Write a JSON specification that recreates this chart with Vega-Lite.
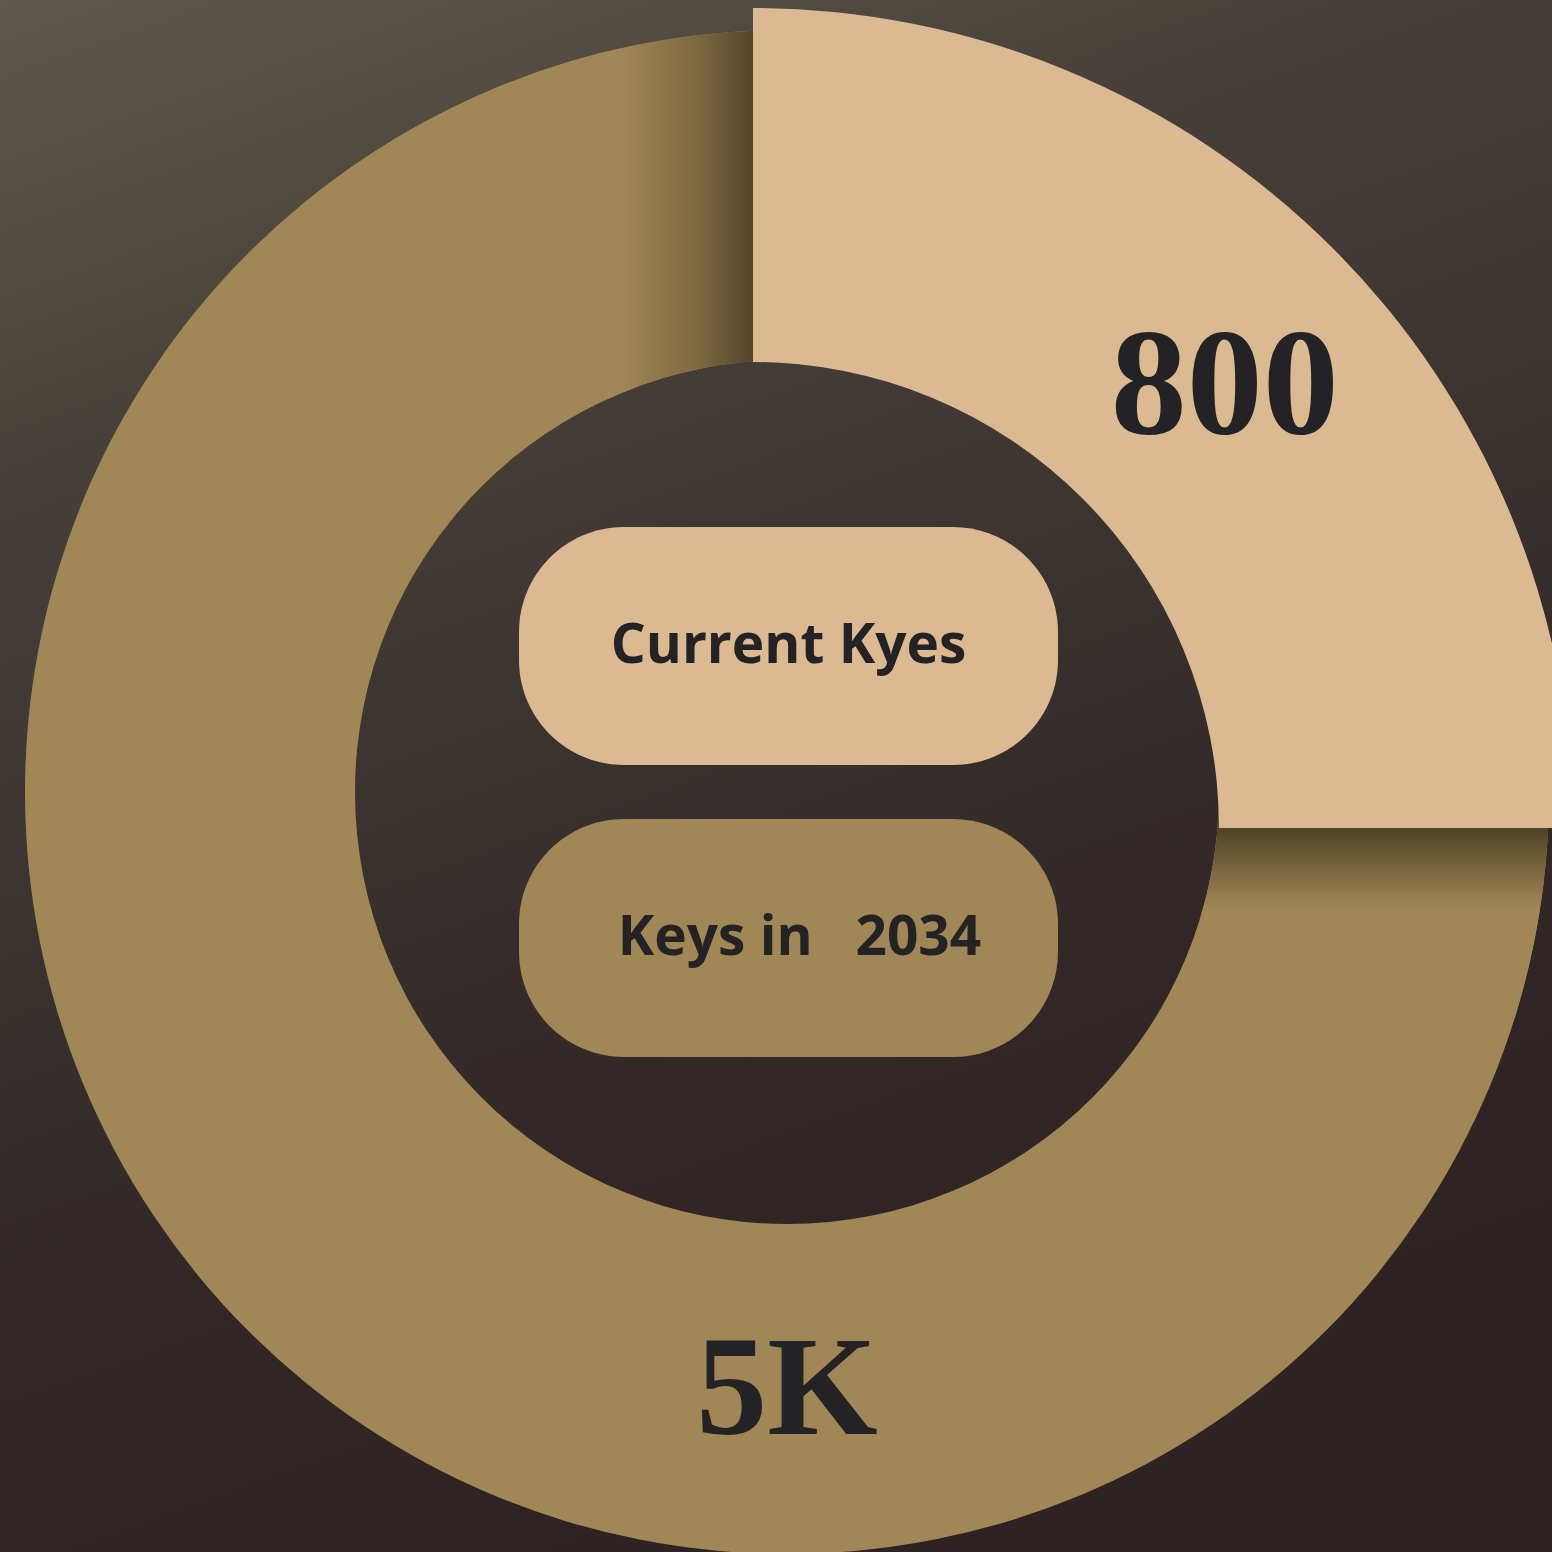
{
  "$schema": "https://vega.github.io/schema/vega-lite/v6.json",
  "width": 1552,
  "height": 1552,
  "autosize": "none",
  "padding": 0,
  "background": "#2d2322",
  "config": {"view": {"stroke": null}},
  "datasets": {
    "segments": [
      {"segment": "Current Kyes", "title": "Current Kyes", "label": "800", "value": 800, "share": 25},
      {"segment": "Keys in 2034", "title": "Keys in \u00a0\u00a02034", "label": "5K", "value": 5000, "share": 75}
    ]
  },
  "data": {"name": "segments"},
  "layer": [
    {
      "mark": {
        "type": "rect",
        "fill": {
          "gradient": "linear", "x1": 0, "y1": 0, "x2": 0.35, "y2": 1,
          "stops": [
            {"offset": 0, "color": "#5f594c"},
            {"offset": 0.28, "color": "#47403a"},
            {"offset": 0.55, "color": "#3a322f"},
            {"offset": 0.78, "color": "#302726"},
            {"offset": 1, "color": "#2d2322"}
          ]
        }
      },
      "transform": [{"filter": "datum.segment === 'Current Kyes'"}],
      "encoding": {
        "x": {"value": 0}, "x2": {"value": "width"},
        "y": {"value": 0}, "y2": {"value": "height"}
      }
    },
    {
      "mark": {"type": "arc", "radius": 762, "radius2": 432, "xOffset": 11, "yOffset": 16},
      "encoding": {
        "theta": {"field": "share", "type": "quantitative", "stack": true, "scale": {"domain": [0, 100]}},
        "color": {"field": "segment", "type": "nominal", "legend": null,
          "scale": {"domain": ["Current Kyes", "Keys in 2034"], "range": ["#DBB991", "#A08755"]}}
      }
    },
    {
      "transform": [{"filter": "datum.segment === 'Keys in 2034'"}],
      "mark": {
        "type": "arc", "radius": 762, "radius2": 432, "theta": -0.40, "theta2": 0, "xOffset": 11, "yOffset": 16,
        "fill": {
          "gradient": "linear", "x1": 0, "y1": 0, "x2": 1, "y2": 0,
          "stops": [
            {"offset": 0, "color": "#A08755"},
            {"offset": 0.44, "color": "#A08755"},
            {"offset": 0.7, "color": "#7d6840"},
            {"offset": 0.89, "color": "#52432b"},
            {"offset": 1, "color": "#52432b"}
          ]
        }
      },
      "encoding": {}
    },
    {
      "transform": [{"filter": "datum.segment === 'Keys in 2034'"}],
      "mark": {
        "type": "arc", "radius": 762, "radius2": 432, "theta": 1.5708, "theta2": 1.8708, "xOffset": 11, "yOffset": 16,
        "fill": {
          "gradient": "linear", "x1": 0, "y1": 0, "x2": 0, "y2": 1,
          "stops": [
            {"offset": 0, "color": "#4f4129"},
            {"offset": 0.17, "color": "#524329"},
            {"offset": 0.35, "color": "#7c683f"},
            {"offset": 0.52, "color": "#A08755"},
            {"offset": 1, "color": "#A08755"}
          ]
        }
      },
      "encoding": {}
    },
    {
      "transform": [{"filter": "datum.segment === 'Current Kyes'"}],
      "mark": {"type": "arc", "radius": 820, "radius2": 466, "xOffset": -23, "yOffset": 52},
      "encoding": {
        "theta": {"field": "share", "type": "quantitative", "stack": true},
        "color": {"field": "segment", "type": "nominal", "legend": null}
      }
    },
    {
      "mark": {"type": "rect", "cornerRadius": 105},
      "encoding": {
        "x": {"datum": "pill", "type": "nominal", "axis": null,
          "scale": {"type": "band", "range": [519, 1058], "paddingInner": 0, "paddingOuter": 0}},
        "y": {"field": "segment", "type": "nominal", "axis": null,
          "scale": {"type": "band", "domain": ["Current Kyes", "Keys in 2034"], "range": [527, 1057], "paddingInner": 0.185, "paddingOuter": 0}},
        "color": {"field": "segment", "type": "nominal", "legend": null}
      }
    },
    {
      "transform": [{"filter": "datum.segment === 'Current Kyes'"}],
      "mark": {"type": "text", "font": "Open Sans", "fontWeight": "bold", "fontSize": 55, "color": "#232326", "align": "center", "baseline": "middle"},
      "encoding": {
        "x": {"datum": "pill", "type": "nominal"},
        "y": {"field": "segment", "type": "nominal"},
        "text": {"field": "title"}
      }
    },
    {
      "transform": [{"filter": "datum.segment === 'Keys in 2034'"}],
      "mark": {"type": "text", "font": "Open Sans", "fontWeight": "bold", "fontSize": 55, "color": "#232326", "align": "center", "baseline": "middle", "dx": 11},
      "encoding": {
        "x": {"datum": "pill", "type": "nominal"},
        "y": {"field": "segment", "type": "nominal"},
        "text": {"field": "title"}
      }
    },
    {
      "mark": {"type": "text", "font": "Liberation Serif", "fontWeight": "bold", "fontSize": 152, "color": "#232326", "align": "center", "baseline": "middle", "radius": 645, "thetaOffset": 1.6057, "xOffset": -23, "yOffset": 52},
      "encoding": {
        "theta": {"field": "share", "type": "quantitative", "stack": true},
        "text": {"condition": {"test": "datum.segment === 'Current Kyes'", "field": "label"}, "value": ""}
      }
    },
    {
      "mark": {"type": "text", "font": "Liberation Serif", "fontWeight": "bold", "fontSize": 142, "color": "#232326", "align": "center", "baseline": "middle", "radius": 599, "thetaOffset": 0.7854, "xOffset": 11, "yOffset": 16},
      "encoding": {
        "theta": {"field": "share", "type": "quantitative", "stack": true},
        "text": {"condition": {"test": "datum.segment === 'Keys in 2034'", "field": "label"}, "value": ""}
      }
    }
  ]
}
